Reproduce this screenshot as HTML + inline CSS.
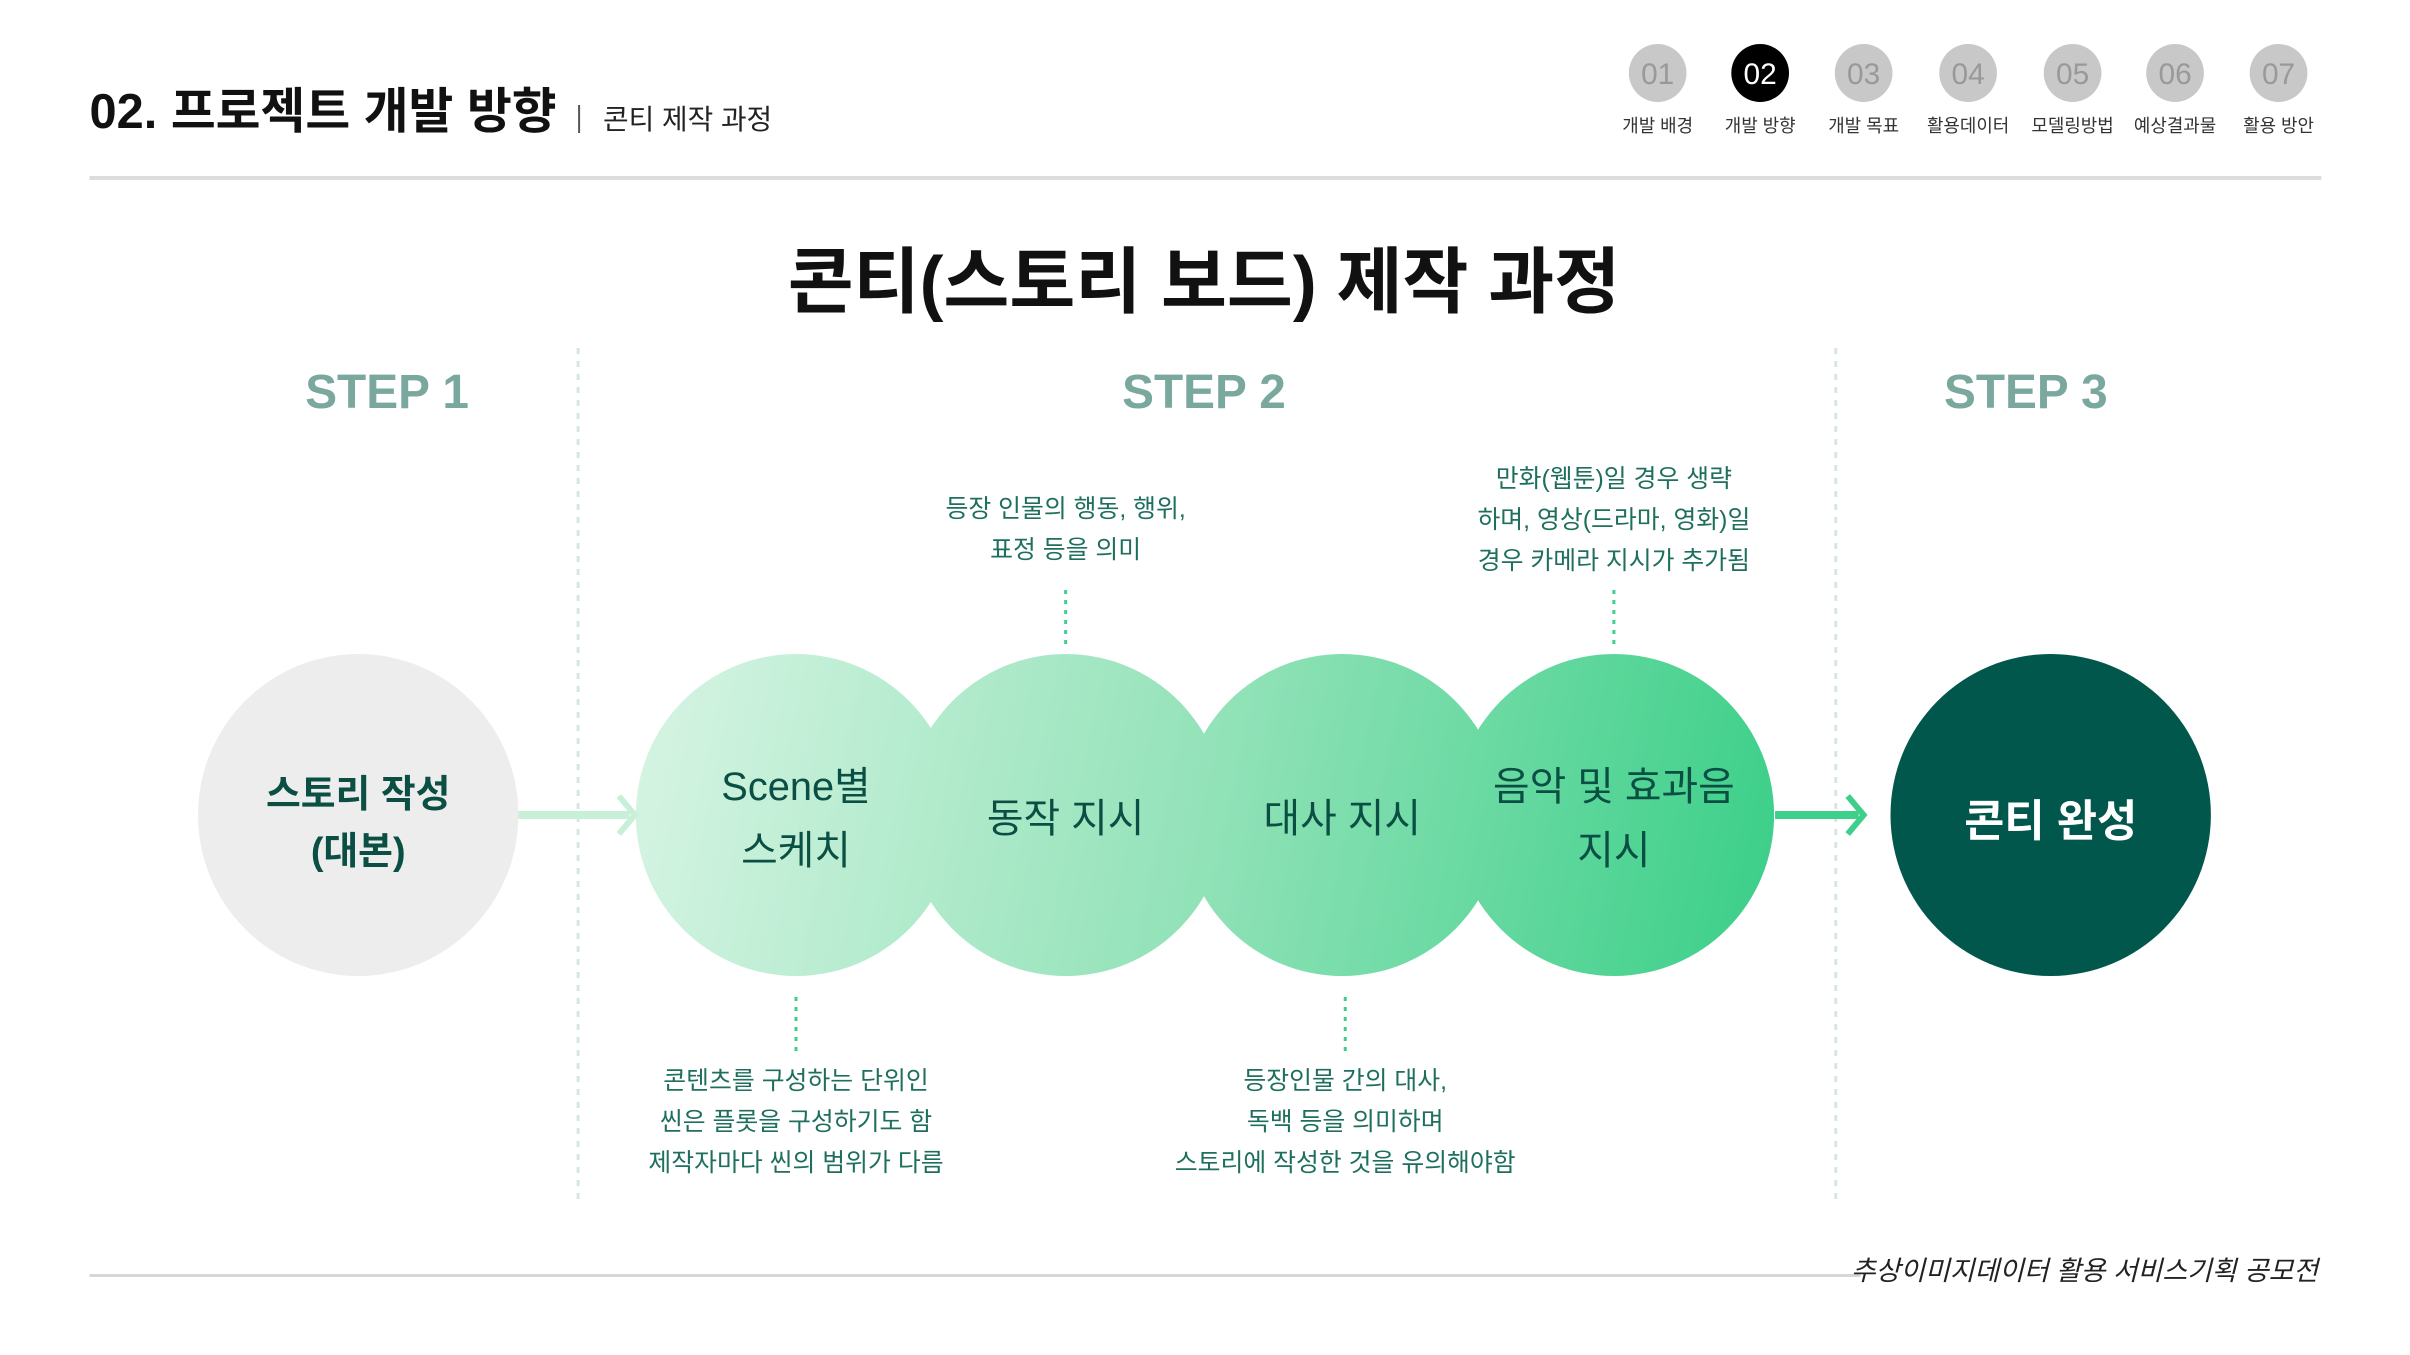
<!DOCTYPE html>
<html><head><meta charset="utf-8"><style>
html,body{margin:0;padding:0;background:#fff;}
svg{display:block;}
text{font-family:"Liberation Sans","Noto Sans CJK KR",sans-serif;}
</style></head><body>
<svg width="2410" height="1355" viewBox="0 0 2410 1355" xmlns="http://www.w3.org/2000/svg">
<defs>
<linearGradient id="g" gradientUnits="userSpaceOnUse" x1="640" y1="700" x2="1785" y2="940">
<stop offset="0" stop-color="#d6f4e3"/>
<stop offset="0.5" stop-color="#92e2b8"/>
<stop offset="1" stop-color="#3acf88"/>
</linearGradient>
</defs>
<g transform="scale(0.995 1)">
<!-- header -->
<text x="90" y="128" font-size="49" font-weight="bold" fill="#111">02. 프로젝트 개발 방향</text>
<rect x="581" y="105" width="2" height="28" fill="#555"/>
<text x="606" y="129" font-size="28" fill="#222">콘티 제작 과정</text>
<g font-family="Liberation Serif" font-size="30" text-anchor="middle">
<circle cx="1666" cy="73" r="29" fill="#c8c8c8"/><text x="1666" y="84" fill="#999">01</text>
<circle cx="1769" cy="73" r="29" fill="#000"/><text x="1769" y="84" fill="#fff">02</text>
<circle cx="1873" cy="73" r="29" fill="#c8c8c8"/><text x="1873" y="84" fill="#999">03</text>
<circle cx="1978" cy="73" r="29" fill="#c8c8c8"/><text x="1978" y="84" fill="#999">04</text>
<circle cx="2083" cy="73" r="29" fill="#c8c8c8"/><text x="2083" y="84" fill="#999">05</text>
<circle cx="2186" cy="73" r="29" fill="#c8c8c8"/><text x="2186" y="84" fill="#999">06</text>
<circle cx="2290" cy="73" r="29" fill="#c8c8c8"/><text x="2290" y="84" fill="#999">07</text>
</g>
<g font-size="18" text-anchor="middle" fill="#333">
<text x="1666" y="132">개발 배경</text><text x="1769" y="132">개발 방향</text><text x="1873" y="132">개발 목표</text>
<text x="1978" y="132">활용데이터</text><text x="2083" y="132">모델링방법</text><text x="2186" y="132">예상결과물</text><text x="2290" y="132">활용 방안</text>
</g>
<rect x="90" y="176" width="2243" height="4" fill="#dcdcdc"/>
<!-- title -->
<text x="1210" y="307" font-size="72" font-weight="bold" text-anchor="middle" fill="#111">콘티(스토리 보드) 제작 과정</text>
<g font-size="48" font-weight="bold" fill="#7aa89e" text-anchor="middle">
<text x="389" y="408">STEP 1</text><text x="1210" y="408">STEP 2</text><text x="2036" y="408">STEP 3</text>
</g>
<!-- dividers -->
<line x1="581" y1="348" x2="581" y2="1202" stroke="#d6e6e0" stroke-width="3" stroke-dasharray="6,7"/>
<line x1="1845" y1="348" x2="1845" y2="1202" stroke="#d6e6e0" stroke-width="3" stroke-dasharray="6,7"/>
<!-- circles -->
<circle cx="360" cy="815" r="161" fill="#ededed"/>
<circle cx="800" cy="815" r="161" fill="url(#g)"/>
<circle cx="1071" cy="815" r="161" fill="url(#g)"/>
<circle cx="1349" cy="815" r="161" fill="url(#g)"/>
<circle cx="1622" cy="815" r="161" fill="url(#g)"/>
<circle cx="2061" cy="815" r="161" fill="#02574c"/>
<!-- arrows -->
<rect x="521" y="811" width="112" height="8" fill="#c8f0d8"/>
<path d="M622 796 L638 815 L622 834" fill="none" stroke="#c8f0d8" stroke-width="6"/>
<rect x="1784" y="811" width="84" height="8" fill="#3ecf8a"/>
<path d="M1857 796 L1873 815 L1857 834" fill="none" stroke="#3ecf8a" stroke-width="6"/>
<!-- circle labels -->
<g text-anchor="middle" fill="#0b4f44">
<text x="360" y="807" font-size="38" font-weight="bold">스토리 작성</text>
<text x="360" y="864" font-size="38" font-weight="bold">(대본)</text>
<text x="800" y="800" font-size="40">Scene별</text>
<text x="800" y="864" font-size="40">스케치</text>
<text x="1071" y="832" font-size="40">동작 지시</text>
<text x="1349" y="832" font-size="40">대사 지시</text>
<text x="1622" y="800" font-size="40">음악 및 효과음</text>
<text x="1622" y="864" font-size="40">지시</text>
<text x="2061" y="836" font-size="44" font-weight="bold" fill="#fff">콘티 완성</text>
</g>
<!-- dotted connectors -->
<g stroke="#3ecf8a" stroke-width="3" stroke-dasharray="4,6">
<line x1="1071" y1="590" x2="1071" y2="645"/>
<line x1="1622" y1="590" x2="1622" y2="645"/>
<line x1="800" y1="997" x2="800" y2="1052"/>
<line x1="1352" y1="997" x2="1352" y2="1052"/>
</g>
<!-- annotations -->
<g font-size="25" text-anchor="middle" fill="#1f6f5e">
<text x="1071" y="517">등장 인물의 행동, 행위,</text>
<text x="1071" y="558">표정 등을 의미</text>
<text x="1622" y="487">만화(웹툰)일 경우 생략</text>
<text x="1622" y="528">하며, 영상(드라마, 영화)일</text>
<text x="1622" y="569">경우 카메라 지시가 추가됨</text>
<text x="800" y="1089">콘텐츠를 구성하는 단위인</text>
<text x="800" y="1130">씬은 플롯을 구성하기도 함</text>
<text x="800" y="1171">제작자마다 씬의 범위가 다름</text>
<text x="1352" y="1089">등장인물 간의 대사,</text>
<text x="1352" y="1130">독백 등을 의미하며</text>
<text x="1352" y="1171">스토리에 작성한 것을 유의해야함</text>
</g>
<!-- footer -->
<rect x="90" y="1274" width="1780" height="3" fill="#d6d6d6"/>
<text x="2095" y="1280" font-size="27" text-anchor="middle" fill="#222" font-style="italic">추상이미지데이터 활용 서비스기획 공모전</text>
</g>
</svg>
</body></html>
